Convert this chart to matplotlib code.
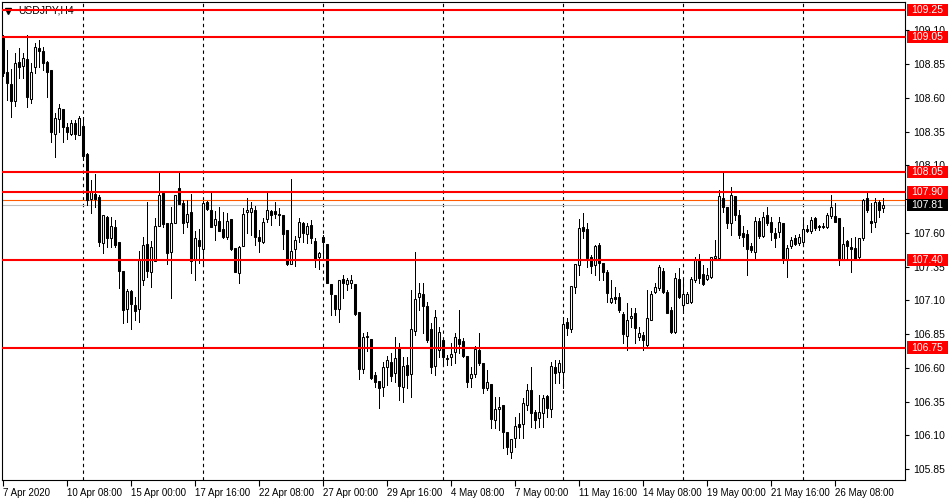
import numpy as np
import matplotlib.pyplot as plt
from matplotlib.patches import Rectangle
from matplotlib.transforms import blended_transform_factory

# USDJPY H4, 7 Apr 2020 16:00 .. 27 May 2020 08:00 (one value per candle)
opens = [109.045, 108.793, 108.704, 108.578, 108.867, 108.837, 108.889, 108.593, 108.83, 108.97,
         108.948, 108.867, 108.807, 108.333, 108.444, 108.519, 108.385, 108.333, 108.415, 108.326,
         108.393, 108.185, 107.852, 107.889, 107.867, 107.526, 107.719, 107.563, 107.644, 107.533,
         107.319, 107.037, 107.17, 107.067, 107.037, 107.252, 107.519, 107.311, 107.393, 107.652,
         107.896, 107.674, 107.459, 107.674, 107.933, 107.822, 107.681, 107.756, 107.4, 107.548,
         107.482, 107.83, 107.77, 107.659, 107.689, 107.63, 107.57, 107.704, 107.489, 107.304,
         107.504, 107.756, 107.756, 107.77, 107.57, 107.533, 107.704, 107.763, 107.763, 107.741,
         107.733, 107.622, 107.37, 107.482, 107.57, 107.674, 107.593, 107.659, 107.541, 107.422,
         107.57, 107.519, 107.222, 107.141, 107.037, 107.259, 107.222, 107.23, 107.222, 107.015,
         106.593, 106.83, 106.815, 106.548, 106.504, 106.459, 106.607, 106.644, 106.563, 106.748,
         106.459, 106.622, 106.556, 106.874, 107.126, 107.148, 107.059, 106.889, 106.615, 106.733,
         106.807, 106.667, 106.681, 106.719, 106.815, 106.8, 106.689, 106.526, 106.556, 106.733,
         106.637, 106.452, 106.482, 106.215, 106.296, 106.326, 106.126, 105.978, 106.081, 106.185,
         106.185, 106.326, 106.437, 106.274, 106.23, 106.267, 106.393, 106.296, 106.607, 106.57,
         106.57, 106.941, 106.889, 107.2, 107.363, 107.644, 107.63, 107.422, 107.363, 107.511,
         107.378, 107.311, 107.089, 107.126, 107.126, 107.0, 106.837, 106.97, 107.007, 106.83,
         106.844, 106.77, 106.955, 107.163, 107.193, 107.319, 107.163, 107.03, 106.867, 107.259,
         107.067, 107.081, 107.089, 107.252, 107.4, 107.296, 107.259, 107.274, 107.415, 107.415,
         107.859, 107.793, 107.674, 107.874, 107.733, 107.6, 107.593, 107.504, 107.459, 107.689,
         107.578, 107.733, 107.681, 107.6, 107.607, 107.674, 107.4, 107.504, 107.563, 107.526,
         107.533, 107.63, 107.615, 107.711, 107.652, 107.652, 107.644, 107.726, 107.726, 107.711,
         107.4, 107.541, 107.496, 107.489, 107.422, 107.563, 107.859, 107.689, 107.681, 107.83,
         107.785]
highs = [109.066, 108.955, 108.815, 108.933, 108.97, 108.933, 109.067, 108.859, 109.007, 109.03,
         108.978, 108.874, 108.807, 108.489, 108.556, 108.519, 108.415, 108.437, 108.437, 108.467,
         108.459, 108.193, 107.993, 108.037, 107.882, 107.733, 107.726, 107.719, 107.696, 107.533,
         107.319, 107.185, 107.178, 107.126, 107.467, 107.57, 107.83, 107.541, 107.711, 108.044,
         107.896, 107.674, 107.793, 107.882, 108.044, 107.845, 107.845, 107.889, 107.615, 107.63,
         107.837, 107.837, 107.896, 107.763, 107.793, 107.756, 107.748, 107.704, 107.489, 107.504,
         107.785, 107.859, 107.83, 107.8, 107.622, 107.711, 107.896, 107.77, 107.83, 107.785,
         107.733, 107.622, 108.0, 107.578, 107.711, 107.681, 107.674, 107.696, 107.563, 107.459,
         107.585, 107.519, 107.222, 107.141, 107.252, 107.289, 107.267, 107.289, 107.222, 107.015,
         106.859, 106.867, 106.815, 106.57, 106.504, 106.644, 106.689, 106.711, 106.83, 106.785,
         106.681, 106.681, 107.178, 107.459, 107.23, 107.23, 107.089, 106.933, 107.03, 106.904,
         106.807, 106.696, 106.785, 106.859, 107.03, 106.822, 106.689, 106.607, 106.763, 106.859,
         106.637, 106.585, 106.482, 106.385, 106.385, 106.326, 106.126, 106.074, 106.237, 106.267,
         106.378, 106.482, 106.607, 106.289, 106.4, 106.4, 106.4, 106.644, 106.659, 106.659,
         106.978, 106.97, 107.207, 107.37, 107.704, 107.748, 107.674, 107.437, 107.511, 107.526,
         107.378, 107.326, 107.252, 107.2, 107.156, 107.015, 107.081, 107.044, 107.044, 106.904,
         106.867, 107.178, 107.17, 107.23, 107.363, 107.341, 107.178, 107.052, 107.304, 107.341,
         107.252, 107.163, 107.274, 107.422, 107.444, 107.363, 107.341, 107.422, 107.548, 107.919,
         108.044, 107.793, 107.941, 107.874, 107.77, 107.652, 107.622, 107.526, 107.719, 107.711,
         107.756, 107.793, 107.719, 107.637, 107.719, 107.674, 107.511, 107.57, 107.585, 107.593,
         107.696, 107.659, 107.719, 107.719, 107.659, 107.674, 107.748, 107.882, 107.822, 107.711,
         107.644, 107.548, 107.563, 107.57, 107.563, 107.852, 107.911, 107.822, 107.859, 107.845,
         107.859]
lows = [108.763, 108.585, 108.459, 108.541, 108.748, 108.748, 108.533, 108.563, 108.785, 108.83,
        108.807, 108.607, 108.274, 108.163, 108.348, 108.274, 108.296, 108.326, 108.296, 108.326,
        108.141, 107.807, 107.748, 107.793, 107.504, 107.452, 107.496, 107.496, 107.496, 107.193,
        106.933, 106.941, 106.889, 106.956, 106.941, 107.215, 107.274, 107.2, 107.393, 107.652,
        107.644, 107.37, 107.119, 107.674, 107.815, 107.6, 107.644, 107.304, 107.252, 107.378,
        107.378, 107.77, 107.644, 107.548, 107.615, 107.563, 107.556, 107.474, 107.311, 107.23,
        107.504, 107.6, 107.585, 107.511, 107.459, 107.526, 107.681, 107.659, 107.711, 107.659,
        107.482, 107.363, 107.37, 107.356, 107.533, 107.533, 107.526, 107.526, 107.348, 107.333,
        107.4, 107.23, 106.993, 106.993, 106.941, 107.119, 107.178, 107.193, 106.993, 106.519,
        106.563, 106.726, 106.519, 106.459, 106.304, 106.393, 106.474, 106.504, 106.496, 106.363,
        106.348, 106.452, 106.385, 106.844, 107.03, 106.859, 106.793, 106.563, 106.548, 106.681,
        106.622, 106.622, 106.622, 106.637, 106.711, 106.681, 106.459, 106.459, 106.533, 106.622,
        106.415, 106.437, 106.156, 106.156, 106.141, 106.007, 105.963, 105.933, 106.015, 106.081,
        106.081, 106.289, 106.163, 106.156, 106.163, 106.163, 106.237, 106.237, 106.489, 106.489,
        106.452, 106.844, 106.867, 107.156, 107.289, 107.563, 107.348, 107.304, 107.289, 107.252,
        107.252, 107.089, 107.081, 107.081, 107.015, 106.785, 106.733, 106.904, 106.785, 106.807,
        106.733, 106.756, 106.955, 107.156, 107.178, 107.156, 107.007, 106.859, 106.859, 107.119,
        107.007, 107.081, 107.081, 107.237, 107.23, 107.215, 107.252, 107.267, 107.4, 107.4,
        107.756, 107.637, 107.585, 107.696, 107.563, 107.5, 107.289, 107.459, 107.4, 107.563,
        107.57, 107.659, 107.548, 107.496, 107.57, 107.378, 107.274, 107.489, 107.511, 107.511,
        107.526, 107.607, 107.6, 107.622, 107.622, 107.637, 107.637, 107.711, 107.681, 107.363,
        107.4, 107.415, 107.311, 107.4, 107.415, 107.548, 107.756, 107.607, 107.644, 107.719,
        107.756]
closes = [108.785, 108.711, 108.578, 108.859, 108.83, 108.896, 108.607, 108.793, 108.978, 108.948,
          108.859, 108.793, 108.348, 108.452, 108.526, 108.385, 108.348, 108.415, 108.333, 108.452,
          108.17, 107.845, 107.911, 107.852, 107.533, 107.733, 107.563, 107.652, 107.511, 107.319,
          107.03, 107.17, 107.074, 107.022, 107.4, 107.511, 107.319, 107.496, 107.652, 107.882,
          107.667, 107.452, 107.674, 107.882, 107.815, 107.674, 107.741, 107.393, 107.563, 107.504,
          107.822, 107.778, 107.644, 107.704, 107.615, 107.57, 107.689, 107.482, 107.311, 107.496,
          107.741, 107.77, 107.785, 107.57, 107.541, 107.681, 107.77, 107.733, 107.741, 107.733,
          107.593, 107.37, 107.467, 107.548, 107.681, 107.6, 107.652, 107.563, 107.4, 107.452,
          107.533, 107.23, 107.148, 107.037, 107.252, 107.23, 107.252, 107.252, 107.0, 106.593,
          106.83, 106.837, 106.526, 106.496, 106.452, 106.607, 106.659, 106.541, 106.674, 106.467,
          106.615, 106.548, 106.889, 107.111, 107.156, 107.059, 106.807, 106.607, 106.978, 106.867,
          106.681, 106.674, 106.704, 106.83, 106.778, 106.689, 106.496, 106.556, 106.741, 106.637,
          106.452, 106.496, 106.222, 106.296, 106.311, 106.126, 106.015, 106.074, 106.17, 106.163,
          106.341, 106.437, 106.267, 106.215, 106.274, 106.378, 106.304, 106.615, 106.563, 106.637,
          106.926, 106.896, 107.207, 107.37, 107.637, 107.615, 107.415, 107.356, 107.504, 107.378,
          107.311, 107.156, 107.119, 107.111, 107.03, 106.852, 106.955, 106.985, 106.896, 106.859,
          106.807, 106.97, 107.148, 107.2, 107.348, 107.163, 107.007, 106.867, 107.267, 107.126,
          107.148, 107.148, 107.259, 107.4, 107.267, 107.222, 107.289, 107.422, 107.43, 107.874,
          107.793, 107.674, 107.882, 107.733, 107.585, 107.57, 107.482, 107.474, 107.689, 107.578,
          107.719, 107.674, 107.607, 107.563, 107.681, 107.4, 107.489, 107.548, 107.519, 107.57,
          107.63, 107.615, 107.696, 107.637, 107.644, 107.644, 107.733, 107.793, 107.681, 107.4,
          107.519, 107.504, 107.482, 107.408, 107.563, 107.845, 107.77, 107.674, 107.83, 107.77,
          107.81]

date_labels = ['7 Apr 2020', '10 Apr 08:00', '15 Apr 00:00', '17 Apr 16:00', '22 Apr 08:00',
               '27 Apr 00:00', '29 Apr 16:00', '4 May 08:00', '7 May 00:00', '11 May 16:00',
               '14 May 08:00', '19 May 00:00', '21 May 16:00', '26 May 08:00']
label_every = 16          # one date label every 16 candles
separators = [20, 50, 80, 110, 140, 170, 200]
levels = [109.25, 109.05, 108.05, 107.90, 107.40, 106.75]
bid = 107.81
ask = 107.84

plt.rcParams['font.family'] = ['Liberation Sans', 'DejaVu Sans']

fig = plt.figure(figsize=(9.5, 5), dpi=100)
ax = fig.add_axes([2 / 950, 20 / 500, 903 / 950, 478 / 500])

o = np.array(opens)
c = np.array(closes)
x = np.arange(len(o))
up = c >= o
bottom = np.minimum(o, c)
height = np.maximum(np.abs(c - o), 0.004)

ax.vlines(x, lows, highs, color='black', lw=0.72, zorder=3, antialiased=False)
ax.bar(x[up], height[up], 0.5, bottom[up], facecolor='white', edgecolor='black', lw=0.75, zorder=4)
ax.bar(x[~up], height[~up], 0.5, bottom[~up], facecolor='black', edgecolor='black', lw=0.75, zorder=4)

for s in separators:
    ax.axvline(s, color='black', lw=0.8, ls=(0, (3, 3)), zorder=1)

ax.axhline(bid, color='#c0c0c0', lw=0.8, zorder=2)
ax.axhline(ask, color='#ff5a00', lw=0.8, zorder=2)
for lv in levels:
    ax.axhline(lv, color='#ff0000', lw=1.5, zorder=5)

ax.set_xlim(-0.25, 225.5)
ax.set_ylim(105.77, 109.31)

ax.set_xticks(np.arange(len(date_labels)) * label_every)
ax.set_xticklabels(date_labels)
for lab in ax.get_xticklabels():
    lab.set_horizontalalignment('left')
ax.tick_params(axis='x', direction='out', length=4, labelsize=7, pad=2)

ax.yaxis.tick_right()
ax.set_yticks(np.round(np.arange(105.85, 109.2, 0.25), 2))
ax.yaxis.set_major_formatter(plt.FormatStrFormatter('%.2f'))
ax.tick_params(axis='y', direction='out', length=3, labelsize=7.5, pad=3)

for sp in ax.spines.values():
    sp.set_color('black')
    sp.set_linewidth(0.8)

# price tags on the right scale
tr = blended_transform_factory(ax.transAxes, ax.transData)


def price_tag(value, colour, z):
    ax.add_patch(Rectangle((1.0022, value - 0.046), 0.0455, 0.092, transform=tr, fc=colour,
                           ec='none', zorder=z, clip_on=False))
    ax.text(1.025, value, f'{value:.2f}', transform=tr, color='white', fontsize=7.5,
            va='center', ha='center', zorder=z + 0.5, clip_on=False)


price_tag(ask, '#ff5a00', 6)
price_tag(bid, 'black', 7)
for lv in levels:
    price_tag(lv, '#ff0000', 7)

ax.plot([0.0066], [0.982], marker='v', color='black', ms=4, transform=ax.transAxes, clip_on=False)
ax.text(0.0177, 0.983, 'USDJPY,H4', transform=ax.transAxes, fontsize=7.5, va='center', ha='left')

fig.savefig('out.png', dpi=100)
